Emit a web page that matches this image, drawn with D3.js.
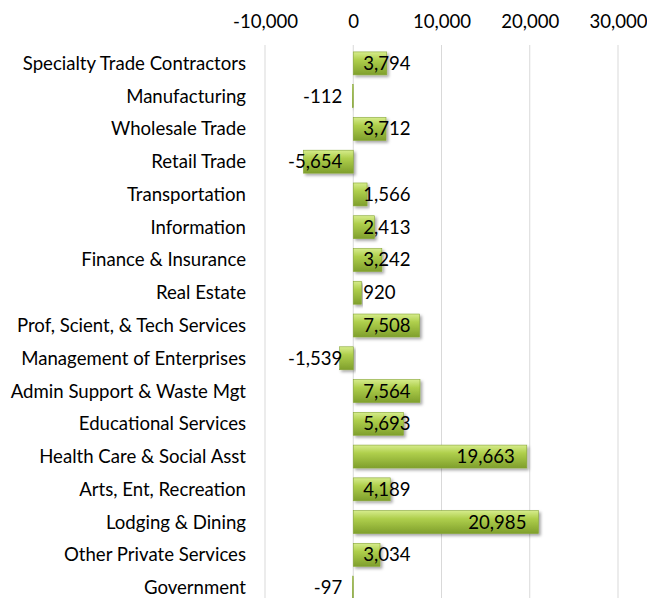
<!DOCTYPE html>
<html>
<head>
<meta charset="utf-8">
<script src="https://cdnjs.cloudflare.com/ajax/libs/d3/7.8.5/d3.min.js"></script>
<style>
  body { margin: 0; background: #fff; }
  text { font-family: Lato, "Open Sans", sans-serif; fill: #000; }
</style>
</head>
<body>
<div id="chart"></div>
<script>
const categories = [
  "Specialty Trade Contractors", "Manufacturing", "Wholesale Trade", "Retail Trade",
  "Transportation", "Information", "Finance & Insurance", "Real Estate",
  "Prof, Scient, & Tech Services", "Management of Enterprises", "Admin Support & Waste Mgt",
  "Educational Services", "Health Care & Social Asst", "Arts, Ent, Recreation",
  "Lodging & Dining", "Other Private Services", "Government"
];
const jobChange = [3794, -112, 3712, -5654, 1566, 2413, 3242, 920, 7508, -1539, 7564,
  5693, 19663, 4189, 20985, 3034, -97];
const tickValues = [-10000, 0, 10000, 20000, 30000];

const width = 647, height = 598;
const fontSize = "18.6px";
const svg = d3.select("#chart").append("svg")
  .attr("width", width)
  .attr("height", height);

const x = d3.scaleLinear().domain([-10000, 30000]).range([265, 618]);
const y = d3.scaleBand().domain(categories).range([47, 604]).paddingInner(0.3).paddingOuter(0.15);
// plain hyphen for negatives, like the original
const fmt = v => d3.format(",")(v).replace("\u2212", "-");

const defs = svg.append("defs");
const grad = defs.append("linearGradient").attr("id", "barGrad")
  .attr("x1", 0).attr("y1", 0).attr("x2", 0).attr("y2", 1);
grad.append("stop").attr("offset", "0%").attr("stop-color", "#d6ec8c");
grad.append("stop").attr("offset", "35%").attr("stop-color", "#afcf4c");
grad.append("stop").attr("offset", "100%").attr("stop-color", "#7f9f2c");
const shadow = defs.append("filter").attr("id", "shadow")
  .attr("x", "-10%").attr("y", "-20%").attr("width", "130%").attr("height", "160%");
shadow.append("feDropShadow").attr("dx", 2).attr("dy", 2).attr("stdDeviation", 1.5)
  .attr("flood-color", "#000").attr("flood-opacity", 0.35);

// gridlines
svg.append("g").selectAll("line")
  .data(tickValues).enter().append("line")
  .attr("x1", d => x(d)).attr("x2", d => x(d))
  .attr("y1", 45).attr("y2", height)
  .attr("stroke", "#d9d9d9").attr("stroke-width", 1);

// top axis labels
const xAxis = d3.axisTop(x).tickValues(tickValues).tickFormat(fmt).tickSize(0).tickPadding(0);
const axisG = svg.append("g").attr("transform", "translate(0,28)").call(xAxis);
axisG.select(".domain").remove();
axisG.selectAll("text").style("font-size", fontSize).style("font-family", "Lato, 'Open Sans', sans-serif").attr("fill", "#000");

// category labels
svg.append("g").selectAll("text")
  .data(categories).enter().append("text")
  .attr("x", 246)
  .attr("y", d => y(d) + y.bandwidth() / 2)
  .attr("dy", "0.35em")
  .attr("text-anchor", "end")
  .style("font-size", fontSize)
  .text(d => d);

const rows = categories.map((c, i) => ({ cat: c, v: jobChange[i] }));

// bars
svg.append("g").selectAll("rect")
  .data(rows).enter().append("rect")
  .attr("x", d => Math.min(x(0), x(d.v)))
  .attr("y", d => y(d.cat))
  .attr("width", d => Math.abs(x(d.v) - x(0)))
  .attr("height", y.bandwidth())
  .attr("fill", "url(#barGrad)")
  .attr("stroke", "#86a635").attr("stroke-width", 0.6)
  .attr("filter", "url(#shadow)");

// value labels, inside end unless the bar is too short
const labels = svg.append("g").selectAll("text")
  .data(rows).enter().append("text")
  .attr("y", d => y(d.cat) + y.bandwidth() / 2)
  .attr("dy", "0.35em")
  .style("font-size", fontSize)
  .text(d => fmt(d.v));

labels.each(function(d) {
  const w = this.getComputedTextLength();
  const t = d3.select(this);
  if (d.v >= 0) {
    const right = Math.max(x(d.v) - 12, x(0) + 10 + w);
    t.attr("x", right).attr("text-anchor", "end");
  } else {
    const left = Math.min(x(d.v) + 12, x(0) - 11 - w);
    t.attr("x", left).attr("text-anchor", "start");
  }
});
</script>
</body>
</html>
